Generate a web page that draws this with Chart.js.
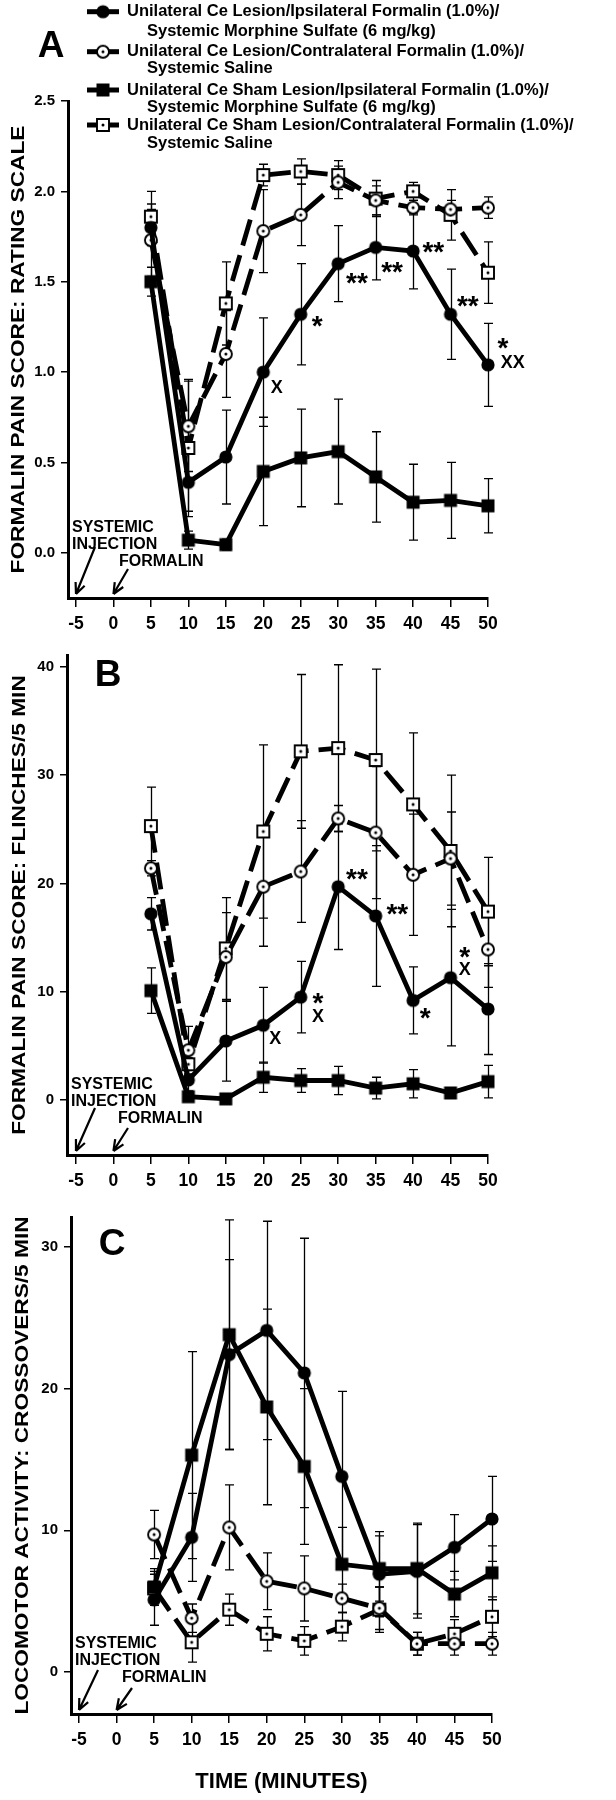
<!DOCTYPE html>
<html>
<head>
<meta charset="utf-8">
<script src="https://cdn.jsdelivr.net/npm/chart.js@4.4.1/dist/chart.umd.min.js"></script>
<style>
  html, body { margin: 0; padding: 0; background: #fff; }
  #wrap { position: relative; width: 616px; height: 1800px; }
  canvas { position: absolute; left: 0; }
</style>
</head>
<body>
<div id="wrap">
  <canvas id="panelA" width="616" height="640" style="top:0px"></canvas>
  <canvas id="panelB" width="616" height="560" style="top:640px"></canvas>
  <canvas id="panelC" width="616" height="600" style="top:1200px"></canvas>
</div>
<script>
const SANS = "'Liberation Sans', Arial, Helvetica, sans-serif";
const NARROW = "'Liberation Sans Narrow', 'Arial Narrow', 'Liberation Sans', sans-serif";

// ---- data ----
const times = [5, 10, 15, 20, 25, 30, 35, 40, 45, 50];
const xTicks = [-5, 0, 5, 10, 15, 20, 25, 30, 35, 40, 45, 50];

const seriesNames = [
  ["Unilateral Ce Lesion/Ipsilateral Formalin (1.0%)/", "Systemic Morphine Sulfate (6 mg/kg)"],
  ["Unilateral Ce Lesion/Contralateral Formalin (1.0%)/", "Systemic Saline"],
  ["Unilateral Ce Sham Lesion/Ipsilateral Formalin (1.0%)/", "Systemic Morphine Sulfate (6 mg/kg)"],
  ["Unilateral Ce Sham Lesion/Contralateral Formalin (1.0%)/", "Systemic Saline"]
];

// panel A: rating scale
const aTicks = [0, 0.5, 1, 1.5, 2, 2.5];
const aLesionMorphine = [1.80, 0.39, 0.53, 1.00, 1.32, 1.60, 1.69, 1.67, 1.32, 1.04];
const aLesionMorphineErr = [0.10, 0.16, 0.26, 0.30, 0.28, 0.21, 0.18, 0.21, 0.25, 0.23];
const aLesionSaline = [1.73, 0.70, 1.10, 1.78, 1.87, 2.05, 1.95, 1.91, 1.90, 1.91];
const aLesionSalineErr = [0.20, 0.25, 0.24, 0.23, 0.17, 0.09, 0.08, 0.04, 0.05, 0.06];
const aShamMorphine = [1.50, 0.07, 0.045, 0.45, 0.525, 0.56, 0.42, 0.28, 0.29, 0.26];
const aShamMorphineErr = [0.08, 0.05, 0.03, 0.30, 0.27, 0.29, 0.25, 0.21, 0.21, 0.15];
const aShamSaline = [1.86, 0.58, 1.38, 2.09, 2.11, 2.09, 1.96, 2.00, 1.87, 1.55];
const aShamSalineErr = [0.14, 0.38, 0.23, 0.06, 0.07, 0.08, 0.10, 0.05, 0.14, 0.17];
const aSigMarks = [[21.8, 0.92, "X"], [27.2, 1.28, "*"], [32.5, 1.52, "**"], [37.2, 1.58, "**"],
  [42.7, 1.69, "**"], [47.3, 1.39, "**"], [52.0, 1.16, "*"], [53.3, 1.06, "XX"]];

// panel B: flinches
const bTicks = [0, 10, 20, 30, 40];
const bLesionMorphine = [17.2, 1.85, 5.45, 6.9, 9.5, 19.7, 17.0, 9.2, 11.3, 8.4];
const bLesionMorphineErr = [1.5, 1.0, 3.7, 3.5, 3.3, 5.8, 6.5, 3.1, 6.3, 4.2];
const bLesionSaline = [21.4, 4.6, 13.2, 19.7, 21.1, 26.0, 24.7, 20.8, 22.3, 13.9];
const bLesionSalineErr = [0.7, 2.2, 4.1, 5.5, 4.7, 1.2, 6.1, 5.6, 4.3, 3.5];
const bShamMorphine = [10.1, 0.3, 0.1, 2.1, 1.8, 1.8, 1.1, 1.5, 0.65, 1.7];
const bShamMorphineErr = [2.1, 0.3, 0.2, 1.4, 1.1, 1.3, 1.0, 1.3, 0.3, 1.5];
const bShamSaline = [25.3, 3.3, 14.0, 24.8, 32.2, 32.5, 31.4, 27.3, 23.0, 17.4];
const bShamSalineErr = [3.6, 1.0, 4.7, 8.0, 7.1, 7.7, 8.4, 6.6, 7.0, 5.0];
const bSigMarks = [[32.5, 20.8, "**"], [37.9, 17.6, "**"], [41.6, 8.0, "*"], [21.6, 5.8, "X"],
  [27.3, 9.4, "*"], [27.3, 7.85, "X"], [46.9, 13.6, "*"], [46.9, 12.1, "X"]];

// panel C: crossovers
const cTicks = [0, 10, 20, 30];
const cLesionMorphine = [5.1, 9.5, 22.4, 24.1, 21.1, 13.8, 6.9, 7.1, 8.8, 10.8];
const cLesionMorphineErr = [1.8, 3.1, 6.7, 7.7, 9.5, 6.0, 3.0, 3.3, 2.3, 3.0];
const cLesionSaline = [9.7, 3.8, 10.2, 6.4, 5.9, 5.2, 4.5, 2.0, 2.0, 2.0];
const cLesionSalineErr = [1.7, 1.0, 3.0, 2.0, 2.3, 1.0, 1.5, 0.8, 0.8, 0.8];
const cShamMorphine = [6.0, 15.3, 23.8, 18.7, 14.5, 7.6, 7.3, 7.3, 5.5, 7.0];
const cShamMorphineErr = [1.3, 7.3, 8.1, 6.9, 5.5, 2.6, 2.3, 3.2, 1.6, 1.9];
const cShamSaline = [5.9, 2.1, 4.4, 2.7, 2.2, 3.2, 4.4, 2.0, 2.7, 3.9];
const cShamSalineErr = [1.2, 1.4, 1.1, 1.2, 1.0, 1.0, 1.6, 0.8, 1.0, 1.4];

// ---- markers ----
function marker(shape, filled) {
  const c = document.createElement("canvas");
  c.width = 18; c.height = 18;
  const g = c.getContext("2d");
  g.fillStyle = filled ? "#000" : "#fff";
  g.strokeStyle = "#000";
  g.lineWidth = 1.9;
  g.beginPath();
  if (shape === "circle") g.arc(9, 9, filled ? 6.6 : 6, 0, Math.PI * 2);
  else if (filled) g.rect(2.5, 2.5, 13, 13);
  else g.rect(3, 3, 12, 12);
  g.fill();
  if (!filled) {
    g.stroke();
    g.fillStyle = "#000";
    g.beginPath();
    g.arc(9, 9, 1.5, 0, Math.PI * 2);
    g.fill();
  }
  return c;
}

const styles = [
  { point: marker("circle", true), dash: [] },
  { point: marker("circle", false), dash: [27, 10] },
  { point: marker("square", true), dash: [] },
  { point: marker("square", false), dash: [27, 10] }
];

// text + arrows under the x axis, offsets from the chart-area corner
const injectionText = [["SYSTEMIC", 4, -70], ["INJECTION", 4, -53], ["FORMALIN", 51, -36]];

function drawArrow(ctx, x1, y1, x2, y2) {
  const a = Math.atan2(y2 - y1, x2 - x1);
  ctx.beginPath();
  ctx.moveTo(x1, y1);
  ctx.lineTo(x2, y2);
  for (const s of [-1, 1]) {
    ctx.moveTo(x2, y2);
    ctx.lineTo(x2 - 12 * Math.cos(a + s * 0.42), y2 - 12 * Math.sin(a + s * 0.42));
  }
  ctx.stroke();
}

function decor(p) {
  return {
    id: "decor",
    beforeDatasetsDraw(chart) {
      const { ctx, scales: { x, y } } = chart;
      ctx.save();
      ctx.strokeStyle = "#000";
      ctx.lineWidth = 1.3;
      chart.data.datasets.forEach(ds => {
        ds.data.forEach((pt, j) => {
          const e = ds.errors[j];
          const px = Math.round(x.getPixelForValue(pt.x)) + 0.5;
          const top = y.getPixelForValue(pt.y + e);
          const bot = y.getPixelForValue(pt.y - e);
          ctx.beginPath();
          ctx.moveTo(px, top); ctx.lineTo(px, bot);
          ctx.moveTo(px - 4.5, top); ctx.lineTo(px + 4.5, top);
          ctx.moveTo(px - 4.5, bot); ctx.lineTo(px + 4.5, bot);
          ctx.stroke();
        });
      });
      ctx.restore();
    },
    afterDraw(chart) {
      const { ctx, chartArea, scales: { x, y } } = chart;
      ctx.save();
      ctx.fillStyle = "#000";
      ctx.strokeStyle = "#000";

      // y title, stretched along its length like the original
      ctx.save();
      ctx.translate(p.titleX, (chartArea.top + chartArea.bottom) / 2);
      ctx.rotate(-Math.PI / 2);
      ctx.scale(1.22, 1);
      ctx.font = "bold 18.6px " + SANS;
      ctx.textAlign = "center";
      ctx.textBaseline = "middle";
      ctx.fillText(p.yTitle, 0, 0);
      ctx.restore();

      // panel letter
      ctx.font = "bold 37px " + NARROW;
      ctx.textAlign = "center";
      ctx.textBaseline = "middle";
      ctx.fillText(p.letter, p.letterPos[0], p.letterPos[1]);

      // significance marks
      (p.marks || []).forEach(([xv, yv, t]) => {
        ctx.font = t.includes("*") ? "bold 28px " + SANS : "bold 18px " + NARROW;
        ctx.textBaseline = "alphabetic";
        const m = ctx.measureText(t);
        const py = y.getPixelForValue(yv) + (m.actualBoundingBoxAscent - m.actualBoundingBoxDescent) / 2;
        ctx.fillText(t, x.getPixelForValue(xv), py);
      });

      // injection / formalin notes
      const cx = chartArea.left, cy = chartArea.bottom;
      ctx.font = "bold 16px " + NARROW;
      ctx.textAlign = "left";
      ctx.textBaseline = "middle";
      injectionText.forEach(([t, dx, dy]) => ctx.fillText(t, cx + dx, cy + dy));
      ctx.lineWidth = 2.2;
      drawArrow(ctx, cx + p.arrows[0][0], cy + p.arrows[0][1], x.getPixelForValue(-5), cy - 4);
      drawArrow(ctx, cx + p.arrows[1][0], cy + p.arrows[1][1], x.getPixelForValue(0), cy - 4);

      // legend (panel A only)
      if (p.legend) {
        const rows = [[11.7, 31.7], [51.7, 68.3], [90, 107.3], [125, 143.3]];
        ctx.font = "bold 16.5px " + NARROW;
        seriesNames.forEach((lines, i) => {
          const [y1, y2] = rows[i];
          ctx.lineWidth = 5;
          ctx.beginPath();
          ctx.moveTo(87, y1); ctx.lineTo(119, y1);
          ctx.stroke();
          ctx.drawImage(styles[i].point, 103 - 9, y1 - 9);
          ctx.fillText(lines[0], 127, y1);
          ctx.fillText(lines[1], 147, y2);
        });
      }
      ctx.restore();
    }
  };
}

function buildPanel(id, p) {
  const datasets = p.series.map((vals, i) => ({
    data: times.map((t, j) => ({ x: t, y: vals[j] })),
    errors: p.errors[i],
    borderColor: "#000",
    backgroundColor: "#000",
    borderWidth: 4.8,
    borderDash: styles[i].dash,
    pointStyle: styles[i].point,
    pointRadius: 7,
    tension: 0,
    clip: false
  }));

  new Chart(document.getElementById(id), {
    type: "line",
    data: { datasets: datasets },
    options: {
      responsive: false,
      animation: false,
      devicePixelRatio: 1,
      layout: { padding: p.pad },
      plugins: { legend: { display: false }, tooltip: { enabled: false } },
      scales: {
        x: {
          type: "linear",
          min: p.xMin,
          max: 50,
          afterBuildTicks: s => { s.ticks = xTicks.map(v => ({ value: v })); },
          afterFit: s => { s.height = p.xAxisH; },
          grid: { drawOnChartArea: false, color: "#000", lineWidth: 1.5, tickLength: 9 },
          border: { color: "#000", width: 3 },
          ticks: {
            color: "#000", padding: 7, autoSkip: false, maxRotation: 0,
            font: { family: NARROW, size: 17.5, weight: "bold" }
          },
          title: p.xTitle ? {
            display: true, text: p.xTitle, color: "#000",
            font: { family: NARROW, size: 22, weight: "bold" },
            padding: { top: 4, bottom: 5 }
          } : { display: false }
        },
        y: {
          min: p.yMin,
          max: p.yMax,
          afterBuildTicks: s => { s.ticks = p.yTicks.map(v => ({ value: v })); },
          afterFit: s => { s.width = p.yAxisW; },
          grid: { drawOnChartArea: false, color: "#000", lineWidth: 1.5, tickLength: 7 },
          border: { color: "#000", width: 3 },
          ticks: {
            color: "#000", padding: 6,
            font: { family: NARROW, size: 15, weight: "bold" },
            callback: v => p.decimals ? v.toFixed(1) : String(v)
          }
        }
      }
    },
    plugins: [decor(p)]
  });
}

buildPanel("panelA", {
  series: [aLesionMorphine, aLesionSaline, aShamMorphine, aShamSaline],
  errors: [aLesionMorphineErr, aLesionSalineErr, aShamMorphineErr, aShamSalineErr],
  yTicks: aTicks, yMin: -0.25, yMax: 2.5, decimals: true,
  xMin: -6.07, yAxisW: 68, xAxisH: 42,
  pad: { top: 101, right: 128, bottom: 0, left: 0 },
  yTitle: "FORMALIN PAIN SCORE: RATING SCALE", titleX: 18.5,
  letter: "A", letterPos: [51, 47],
  marks: aSigMarks, arrows: [[27, -51], [60, -29]], legend: true
});

buildPanel("panelB", {
  series: [bLesionMorphine, bLesionSaline, bShamMorphine, bShamSaline],
  errors: [bLesionMorphineErr, bLesionSalineErr, bShamMorphineErr, bShamSalineErr],
  yTicks: bTicks, yMin: -5.08, yMax: 41.1, decimals: false,
  xMin: -6.2, yAxisW: 67, xAxisH: 45,
  pad: { top: 15, right: 128, bottom: 0, left: 0 },
  yTitle: "FORMALIN PAIN SCORE: FLINCHES/5 MIN", titleX: 20,
  letter: "B", letterPos: [108, 36],
  marks: bSigMarks, arrows: [[28, -47], [61, -27]]
});

buildPanel("panelC", {
  series: [cLesionMorphine, cLesionSaline, cShamMorphine, cShamSaline],
  errors: [cLesionMorphineErr, cLesionSalineErr, cShamMorphineErr, cShamSalineErr],
  yTicks: cTicks, yMin: -2.96, yMax: 32.1, decimals: false,
  xMin: -6.07, yAxisW: 71, xAxisH: 86,
  pad: { top: 17, right: 124, bottom: 0, left: 0 },
  yTitle: "LOCOMOTOR ACTIVITY: CROSSOVERS/5 MIN", titleX: 22.5,
  letter: "C", letterPos: [112, 45],
  arrows: [[27, -44], [61, -26]],
  xTitle: "TIME (MINUTES)"
});
</script>
</body>
</html>
